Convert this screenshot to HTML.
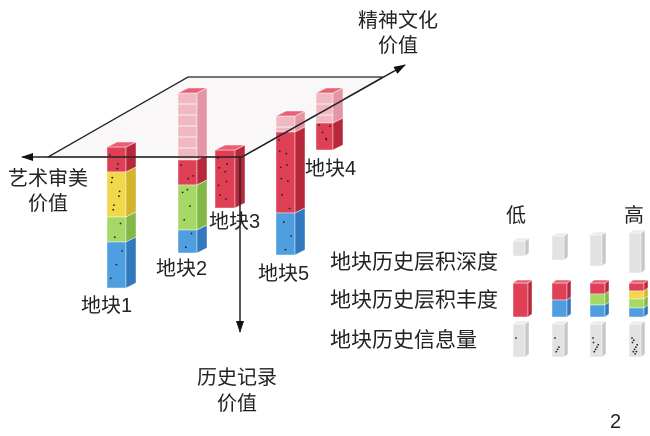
<!DOCTYPE html>
<html><head><meta charset="utf-8"><style>
html,body{margin:0;padding:0;background:#fff;}
svg{display:block;font-family:"Liberation Sans","Noto Sans CJK SC",sans-serif;}
</style></head><body>
<svg id="s" width="650" height="436" viewBox="0 0 650 436" xmlns="http://www.w3.org/2000/svg">
<defs>
<marker id="ah" markerWidth="12" markerHeight="8" refX="11" refY="4" orient="auto" markerUnits="userSpaceOnUse"><path d="M0,0 L12,4 L0,8 Z" fill="#111"/></marker>
</defs>
<polygon points="188,77 383,77 242,157 48,157" fill="#faf7f8" stroke="#222" stroke-width="1.3"/>
<g id="bars"></g>
<line x1="242" y1="157" x2="22" y2="157" stroke="#222" stroke-width="1.5" marker-end="url(#ah)"/>
<line x1="242" y1="157" x2="405" y2="65" stroke="#222" stroke-width="1.5" marker-end="url(#ah)"/>
<line x1="240" y1="157" x2="240" y2="332" stroke="#222" stroke-width="1.5" marker-end="url(#ah)"/>
<g font-size="20" fill="#222">
<text x="398" y="27" text-anchor="middle">精神文化</text>
<text x="398" y="52" text-anchor="middle">价值</text>
<text x="48" y="185" text-anchor="middle">艺术审美</text>
<text x="48" y="210" text-anchor="middle">价值</text>
<text x="237" y="384" text-anchor="middle">历史记录</text>
<text x="237" y="410" text-anchor="middle">价值</text>
<text x="81" y="312">地块1</text>
<text x="156" y="275">地块2</text>
<text x="209" y="228">地块3</text>
<text x="305" y="175">地块4</text>
<text x="258" y="280">地块5</text>
<text x="506" y="222">低</text>
<text x="624" y="222">高</text>
<text x="330" y="269" font-size="21">地块历史层积深度</text>
<text x="330" y="307" font-size="21">地块历史层积丰度</text>
<text x="330" y="347" font-size="21">地块历史信息量</text>
<text x="610" y="428" font-size="20">2</text>
</g>
</svg>
<script>
var g=document.getElementById('bars');var NS="http://www.w3.org/2000/svg";
var C={r:["#e04055","#b8283c","#e96074"],y:["#f1d84a","#d1b52c","#f6e57a"],g:["#a5d867","#83b846","#c0e690"],b:["#4f9fe0","#3178bf","#7fbcec"],p:["#f0b8c2","#e296a5","#f5ccd4"],w:["#e2e2e2","#c8c8c8","#ececec"]};
function poly(pts,f,o){var p=document.createElementNS(NS,'polygon');p.setAttribute('points',pts);p.setAttribute('fill',f);if(o)p.setAttribute('opacity',o);p.setAttribute('stroke','rgba(255,255,255,0.6)');p.setAttribute('stroke-width','0.7');g.appendChild(p);}
function prism(x,w,d,h,segs,dots){
 segs.forEach(function(s){var c=C[s[0]];
  poly(x+','+s[1]+' '+(x+w)+','+s[1]+' '+(x+w)+','+s[2]+' '+x+','+s[2],c[0]);
  poly((x+w)+','+s[1]+' '+(x+w+d)+','+(s[1]-h)+' '+(x+w+d)+','+(s[2]-h)+' '+(x+w)+','+s[2],c[1]);
  if(s[0]=='p'){for(var yy=s[1]+11;yy<s[2];yy+=11){var l=document.createElementNS(NS,'line');l.setAttribute('x1',x);l.setAttribute('x2',x+w);l.setAttribute('y1',yy);l.setAttribute('y2',yy);l.setAttribute('stroke','#fff');l.setAttribute('stroke-width','0.8');g.appendChild(l);}}
 });
 var t=segs[0];var c=C[t[0]=='p'?'r':t[0]];
 poly(x+','+t[1]+' '+(x+d)+','+(t[1]-h)+' '+(x+w+d)+','+(t[1]-h)+' '+(x+w)+','+t[1],c[2]);
 if(dots){for(var i=0;i<dots.n;i++){var c2=document.createElementNS(NS,'circle');c2.setAttribute('cx',x+3+((i*7.3)%(w-6)));c2.setAttribute('cy',dots.y0+((i*13.7)%(dots.y1-dots.y0)));c2.setAttribute('r',0.9);c2.setAttribute('fill','#222');g.appendChild(c2);}}
}
prism(107,19,10,5,[['r',147,172],['y',172,217],['g',217,242],['b',242,288]],{n:14,y0:155,y1:283});
prism(178,19,10,5,[['p',93,160],['r',160,185],['g',185,230],['b',230,253]],{n:9,y0:165,y1:250});
prism(215,20,10,5,[['r',150,208]],{n:8,y0:158,y1:203});
prism(276,19,10,5,[['p',116,132],['r',132,213],['b',213,255]],{n:12,y0:140,y1:252});
prism(316,17,10,5,[['p',93,123],['r',123,150]],{n:5,y0:125,y1:145});
var cols=[513,552,590,629];
var tops=[241,236,235,233];
cols.forEach(function(x,i){prism(x,12,4,3,[['w',tops[i],[256,260,266,273][i]]]);});
prism(513,15,4,3,[['r',283,317]]);
prism(552,15,4,3,[['r',283,300],['b',300,317]]);
prism(590,15,4,3,[['r',283,294],['g',294,305],['b',305,317]]);
prism(629,15,4,3,[['r',283,291],['y',291,299],['g',299,308],['b',308,317]]);
[[1,513],[4,552],[6,590],[9,629]].forEach(function(a){prism(a[1],12,4,3,[['w',324,357]],{n:a[0],y0:338,y1:354});});
</script>
</body></html>
